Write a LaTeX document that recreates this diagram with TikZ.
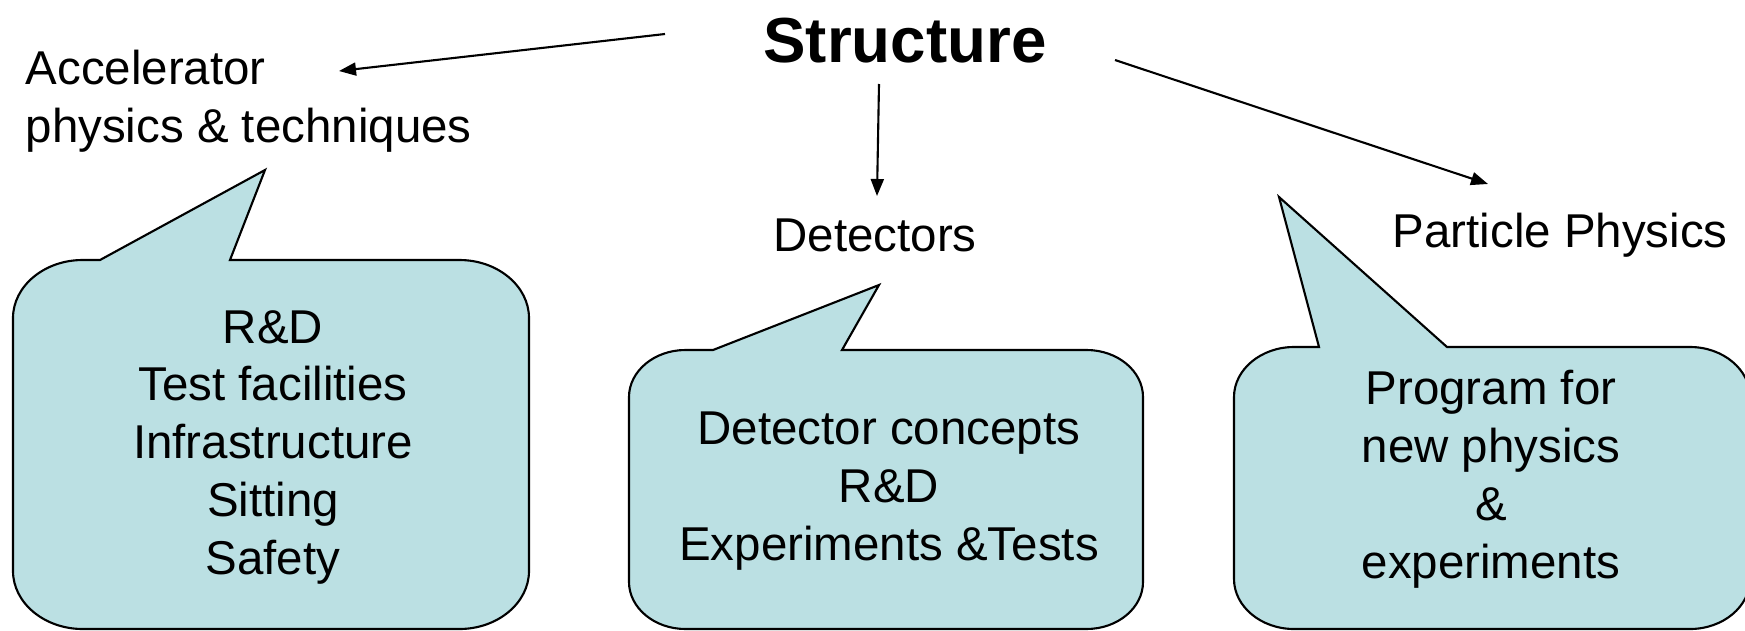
\documentclass[tikz,border=0pt]{standalone}
\usepackage{fontspec}
\setmainfont{Liberation Sans}
\usetikzlibrary{arrows.meta}

\definecolor{bubblefill}{RGB}{187,224,227}

% rounded box with a pointed tail on its top edge
% #1 left, #2 top, #3 right, #4 bottom, #5 tail start x, #6/#7 tail tip, #8 tail end x, #9 corner height
\newcommand{\bubble}[9]{%
  \draw[bubble] (#5,#2) -- (#6,#7) -- (#8,#2) -- ({#3-1.2*#9},#2)
    .. controls ({#3-0.54*#9},#2) and (#3,{#2+0.45*#9}) .. (#3,{#2+#9})
    -- (#3,{#4-#9})
    .. controls (#3,{#4-0.45*#9}) and ({#3-0.54*#9},#4) .. ({#3-1.2*#9},#4)
    -- ({#1+1.2*#9},#4)
    .. controls ({#1+0.54*#9},#4) and (#1,{#4-0.45*#9}) .. (#1,{#4-#9})
    -- (#1,{#2+#9})
    .. controls (#1,{#2+0.45*#9}) and ({#1+0.54*#9},#2) .. ({#1+1.2*#9},#2)
    -- cycle;}

\begin{document}
\begin{tikzpicture}[x=0.01cm, y=-0.01cm,
    txt/.style={font=\fontsize{13.5}{16.4}\selectfont, align=center, inner sep=0pt},
    head/.style={font=\fontsize{18.1}{22}\selectfont\bfseries, inner sep=0pt},
    bubble/.style={draw, line width=0.6pt, fill=bubblefill},
    arrow/.style={-{Triangle[length=0.17cm, width=0.13cm]}, line width=0.6pt}
]
\useasboundingbox (0,0) rectangle (1745,630);
\clip (0,0) rectangle (1745,630);

% speech bubbles
\bubble{13}{260}{529}{629}{100}{265}{170}{230}{58}
\bubble{629}{350}{1143}{629}{713}{879}{285}{842}{47}
\bubble{1234}{347}{1750}{629}{1319}{1279}{197}{1447}{50}

% headings (base = baseline of the last line)
\node[head, anchor=base] (title) at (905,62) {Structure};
\node[txt, anchor=base west, align=left] (acc) at (25,142) {Accelerator\\physics \& techniques};
\node[txt, anchor=base] (det) at (875,251) {Detectors};
\node[txt, anchor=base west] (pp) at (1392,247) {Particle Physics};

% bubble contents
\node[txt, anchor=base] (acclist) at (273,574) {R\&D\\Test facilities\\Infrastructure\\Sitting\\Safety};
\node[txt, anchor=base] (detlist) at (889,560) {Detector concepts\\R\&D\\Experiments \&Tests};
\node[txt, anchor=base] (pplist) at (1491,578) {Program for\\new physics\\\&\\experiments};

% arrows out of the title
\coordinate (from-acc) at (665,34);
\coordinate (to-acc) at (339,71);
\coordinate (from-det) at (879,84);
\coordinate (to-det) at (877,196);
\coordinate (from-pp) at (1115,60);
\coordinate (to-pp) at (1488,184);

\draw[arrow] (from-acc) -- (to-acc);
\draw[arrow] (from-det) -- (to-det);
\draw[arrow] (from-pp) -- (to-pp);
\end{tikzpicture}
\end{document}
